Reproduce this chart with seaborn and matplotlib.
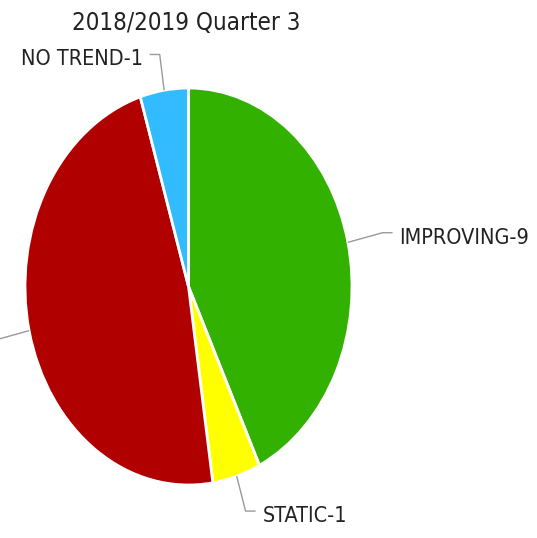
import numpy as np
import matplotlib
matplotlib.use("Agg")
import matplotlib.pyplot as plt
import seaborn as sns

# Trend counts for the quarter
categories = ["IMPROVING", "STATIC", "DETERIORATING", "NO TREND"]
counts = [9, 1, 10, 1]
colors = ["#33b100", "#ffff00", "#b00000", "#33bbff"]
title = "2018/2019 Quarter 3"

sns.set_theme(style="white")
plt.rcParams["font.family"] = ["DejaVu Sans", "Noto Sans"]

W, H = 537, 538
fig = plt.figure(figsize=(W / 100, H / 100), dpi=100)
fig.patch.set_facecolor("white")

# pie drawn in an axes stretched vertically -> elliptical pie
left, bottom, aw, ah = 25, 53, 327, 397
ax = fig.add_axes([left / W, bottom / H, aw / W, ah / H])
wedges, _ = ax.pie(counts, colors=colors, startangle=90, counterclock=False,
                   radius=1, wedgeprops=dict(edgecolor="white", linewidth=2))
ax.set_aspect("auto")
ax.set_xlim(-1, 1)
ax.set_ylim(-1, 1)
ax.axis("off")

# pixel -> data scale
sx, sy = 2 / aw, 2 / ah
label_font = dict(fontsize=15.5, fontstretch="condensed", color="#222222")

total = sum(counts)
start = 90.0
labels = []
for cat, val, w in zip(categories, counts, wedges):
    span = 360.0 * val / total
    mid = np.deg2rad(start - span / 2)
    start -= span
    ex, ey = np.cos(mid), np.sin(mid)
    # direction of the connector in pixel space
    dx, dy = ex / sx, ey / sy
    n = np.hypot(dx, dy)
    dx, dy = dx / n, dy / n
    elbow = 36
    bx, by = ex + dx * elbow * sx, ey + dy * elbow * sy
    side = 1 if ex >= 0 else -1
    hx = bx + side * 10 * sx
    ax.plot([ex, bx, hx], [ey, by, by], color="#9a9a9a", lw=1,
            clip_on=False, solid_capstyle="butt")
    t = ax.text(hx + side * 7 * sx, by - 5 * sy, f"{cat}-{val}",
                ha="left" if side > 0 else "right", va="center",
                clip_on=False, **label_font)
    labels.append(t)

# labels that fall entirely beyond the canvas are dropped
fig.canvas.draw()
renderer = fig.canvas.get_renderer()
for t in labels:
    bb = t.get_window_extent(renderer)
    if bb.x1 < 0 or bb.x0 > W:
        t.remove()

fig.text(186 / W, 1 - 23 / H, title, ha="center", va="center",
         fontsize=17.3, fontstretch="condensed", color="#222222")

fig.savefig("out.png", dpi=100, facecolor="white")
